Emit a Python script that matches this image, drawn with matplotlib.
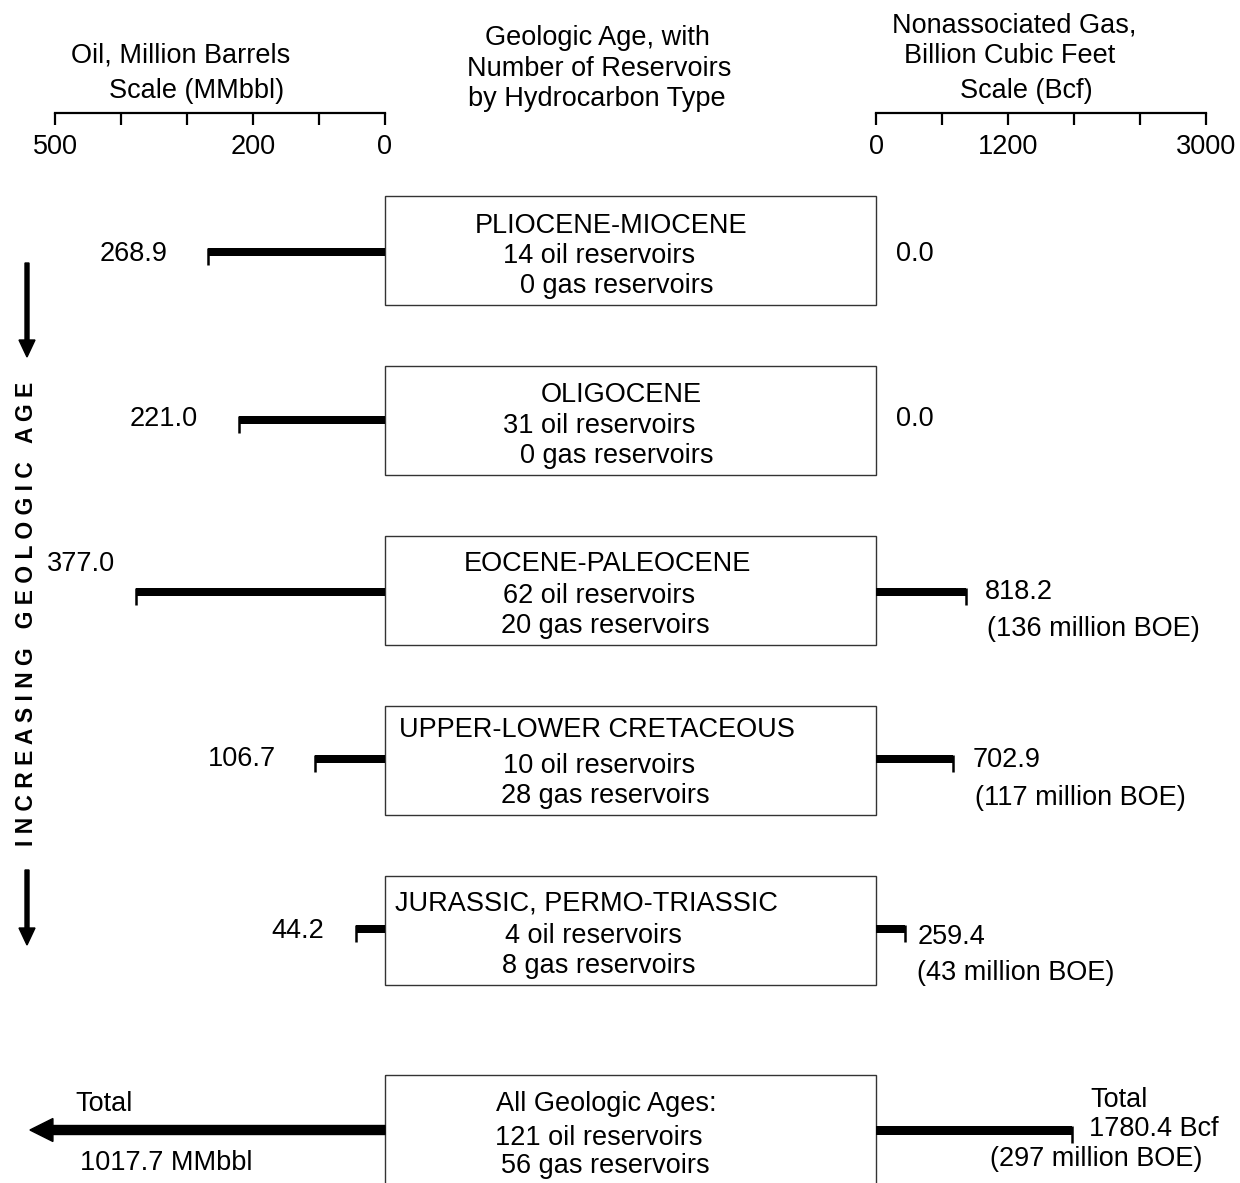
import matplotlib
matplotlib.use("Agg")
import matplotlib.pyplot as plt
from matplotlib.patches import Rectangle, FancyArrow

plt.rcParams['font.family'] = ['Liberation Sans', 'DejaVu Sans']

# ---------------- data ----------------
ages = ["PLIOCENE-MIOCENE", "OLIGOCENE", "EOCENE-PALEOCENE",
        "UPPER-LOWER CRETACEOUS", "JURASSIC, PERMO-TRIASSIC"]
oil_reservoirs = [14, 31, 62, 10, 4]
gas_reservoirs = [0, 0, 20, 28, 8]
oil_mmbbl = [268.9, 221.0, 377.0, 106.7, 44.2]
gas_bcf = [0.0, 0.0, 818.2, 702.9, 259.4]
gas_boe = [None, None, 136, 117, 43]

total_oil_res = 121
total_gas_res = 56
total_oil = 1017.7
total_gas = 1780.4
total_boe = 297

oil_ticks = [0, 100, 200, 300, 400, 500]
oil_tick_labels = ["0", "", "200", "", "", "500"]
gas_ticks = [0, 600, 1200, 1800, 2400, 3000]
gas_tick_labels = ["0", "", "1200", "", "", "3000"]

# ---------------- layout ----------------
W, H = 1240, 1183
FS = 19.5
box_top = [196, 366, 536, 706, 876]
row_y = [252, 420, 592, 759, 929]
title_off = [37, 36, 35, 31, 34]
title_x = [611, 621, 607, 597, 586]
oil_line_x = [599, 599, 599, 599, 593]
gas_line_x = [617, 617, 605, 605, 599]
oil_lab = [(134, 261), (164, 426), (81, 571), (242, 766), (298, 938)]
gas_lab = [(896, 261), (896, 426), (985, 599), (973, 767), (918, 944)]
boe_lab = [None, None, (987, 636), (975, 805), (917, 980)]
total_top = 1075
total_y = 1130

fig = plt.figure(figsize=(W / 100, H / 100), dpi=100)

ax = fig.add_axes([0, 0, 1, 1])
ax.set_xlim(0, W)
ax.set_ylim(H, 0)
ax.axis('off')

OIL_L, OIL_R = 55, 385
GAS_L, GAS_R = 876, 1206

oax = fig.add_axes([OIL_L / W, 0, (OIL_R - OIL_L) / W, 1])
oax.set_xlim(max(oil_ticks), 0)
oax.set_ylim(H, 0)
oax.axis('off')

gax = fig.add_axes([GAS_L / W, 0, (GAS_R - GAS_L) / W, 1])
gax.set_xlim(0, max(gas_ticks))
gax.set_ylim(H, 0)
gax.axis('off')

# ---------------- scale axes ----------------
def scale_axis(left, right, ticks, labels, invert):
    s = fig.add_axes([left / W, 1 - 113 / H, (right - left) / W, 0.0005])
    if invert:
        s.set_xlim(max(ticks), 0)
    else:
        s.set_xlim(0, max(ticks))
    s.set_xticks(ticks)
    s.set_xticklabels(labels)
    s.set_yticks([])
    for k in ['top', 'left', 'right']:
        s.spines[k].set_visible(False)
    s.spines['bottom'].set_linewidth(1.6)
    s.tick_params(axis='x', direction='out', length=8.8, width=1.6,
                  labelsize=FS, pad=6)
    s.patch.set_alpha(0)
    return s

scale_axis(OIL_L, OIL_R, oil_ticks, oil_tick_labels, True)
scale_axis(GAS_L, GAS_R, gas_ticks, gas_tick_labels, False)

# ---------------- header text ----------------
ax.text(71, 62, "Oil, Million Barrels", fontsize=FS, ha='left', va='baseline')
ax.text(109, 98, "Scale (MMbbl)", fontsize=FS, ha='left', va='baseline')
ax.text(892, 32, "Nonassociated Gas,", fontsize=FS, ha='left', va='baseline')
ax.text(904, 63, "Billion Cubic Feet", fontsize=FS, ha='left', va='baseline')
ax.text(960, 98, "Scale (Bcf)", fontsize=FS, ha='left', va='baseline')
ax.text(597, 45, "Geologic Age, with", fontsize=FS, ha='center', va='baseline')
ax.text(599, 76, "Number of Reservoirs", fontsize=FS, ha='center', va='baseline')
ax.text(597, 106, "by Hydrocarbon Type", fontsize=FS, ha='center', va='baseline')

# ---------------- boxes ----------------
for i, name in enumerate(ages):
    t = box_top[i]
    ax.add_patch(Rectangle((OIL_R, t), GAS_L - OIL_R, 109, fill=False,
                           edgecolor='#333333', lw=1.0))
    ax.text(title_x[i], t + title_off[i], name, fontsize=FS, ha='center', va='baseline')
    ax.text(oil_line_x[i], t + 67, f"{oil_reservoirs[i]} oil reservoirs",
            fontsize=FS, ha='center', va='baseline')
    ax.text(gas_line_x[i], t + 97, f"{gas_reservoirs[i]} gas reservoirs",
            fontsize=FS, ha='center', va='baseline')

ax.add_patch(Rectangle((OIL_R, total_top), GAS_L - OIL_R, 130, fill=False,
                       edgecolor='#333333', lw=1.0))
ax.text(606, total_top + 36, "All Geologic Ages:", fontsize=FS, ha='center', va='baseline')
ax.text(599, total_top + 70, f"{total_oil_res} oil reservoirs", fontsize=FS,
        ha='center', va='baseline')
ax.text(605, total_top + 98, f"{total_gas_res} gas reservoirs", fontsize=FS,
        ha='center', va='baseline')

# ---------------- bars ----------------
oax.barh(row_y, oil_mmbbl, height=8.5, color='black')
oax.vlines(oil_mmbbl, [y - 4 for y in row_y], [y + 13 for y in row_y],
           color='black', lw=1.8)

gy = [y for y, v in zip(row_y, gas_bcf) if v > 0]
gv = [v for v in gas_bcf if v > 0]
gax.barh(gy, gv, height=8.5, color='black')
gax.vlines(gv, [y - 4 for y in gy], [y + 13 for y in gy], color='black', lw=1.8)

# totals
gax.barh([total_y], [total_gas], height=9, color='black')
gax.vlines([total_gas], [total_y - 4.5], [total_y + 13], color='black', lw=1.8)

xl = oax.get_xlim()[0]
tip = xl * 1.076  # off-scale: arrow runs past the end of the oil scale
oax.add_patch(FancyArrow(0, total_y, tip, 0, width=9, head_width=23,
                         head_length=23 * xl / (OIL_R - OIL_L),
                         length_includes_head=True, color='black', clip_on=False))

# ---------------- value labels ----------------
for i, v in enumerate(oil_mmbbl):
    ax.text(oil_lab[i][0], oil_lab[i][1], f"{v:.1f}", fontsize=FS,
            ha='center', va='baseline')
for i, v in enumerate(gas_bcf):
    ax.text(gas_lab[i][0], gas_lab[i][1], f"{v:.1f}", fontsize=FS,
            ha='left', va='baseline')
    if gas_boe[i] is not None:
        ax.text(boe_lab[i][0], boe_lab[i][1], f"({gas_boe[i]} million BOE)",
                fontsize=FS, ha='left', va='baseline')

ax.text(75, 1111, "Total", fontsize=FS, ha='left', va='baseline')
ax.text(80, 1170, f"{total_oil:.1f} MMbbl", fontsize=FS, ha='left', va='baseline')
ax.text(1090, 1107, "Total", fontsize=FS, ha='left', va='baseline')
ax.text(1089, 1136, f"{total_gas:.1f} Bcf", fontsize=FS, ha='left', va='baseline')
ax.text(990, 1166, f"({total_boe} million BOE)", fontsize=FS, ha='left', va='baseline')

# ---------------- vertical age indicator ----------------
ax.text(27, 614, "I N C R E A S I N G   G E O L O G I C   A G E", rotation=90,
        ha='center', va='center', fontsize=16.5, fontweight='bold')
ax.add_patch(FancyArrow(27, 263, 0, 94, width=4, head_width=16, head_length=17,
                        length_includes_head=True, color='black'))
ax.add_patch(FancyArrow(27, 870, 0, 75, width=4, head_width=16, head_length=17,
                        length_includes_head=True, color='black'))

fig.savefig("out.png", dpi=100)
